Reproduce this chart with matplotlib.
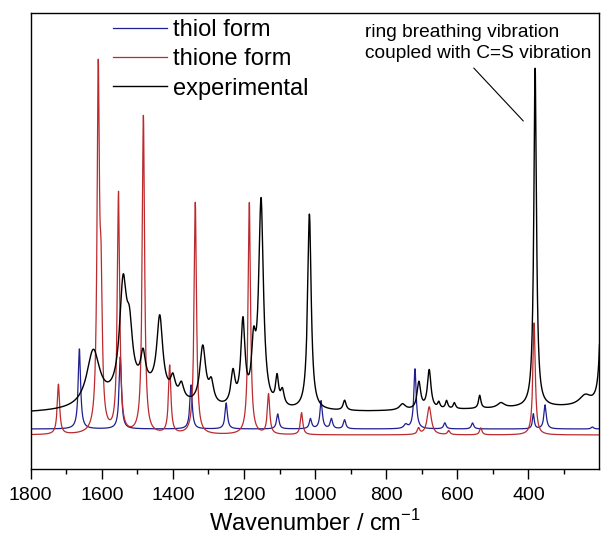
import matplotlib
matplotlib.use("Agg")
import matplotlib.pyplot as plt
import numpy as np

plt.rcParams["font.family"] = ["Liberation Sans", "DejaVu Sans"]

# band tables: position (cm-1), height (a.u.), half width (cm-1)
thiol_pos = [1663, 1548, 1349, 1250, 1105, 1013, 983, 954, 917, 745, 719, 635, 557, 386, 353, 220]
thiol_amp = [80, 72, 44, 26, 15, 10, 28, 10, 9, 4, 60, 6, 6, 15, 24, 2]
thiol_hw = [4, 4, 4, 4, 4, 4, 4, 4, 4, 6, 4, 4, 4, 3, 4, 4]
thiol_base = 40

thione_pos = [1722, 1610, 1602, 1553, 1483, 1409, 1337, 1185, 1131, 1038, 709, 679, 624, 534, 384]
thione_amp = [50, 350, 120, 240, 318, 68, 232, 232, 40, 22, 6, 28, 4, 7, 112]
thione_hw = [4, 4, 4, 4, 4, 4, 4, 4, 4, 4, 4, 7, 4, 4, 4]
thione_base = 34

exp_pos = [1480, 1624, 1540, 1522, 1484, 1437, 1400, 1376, 1316, 1292, 1231, 1203, 1173, 1152,
           1107, 1092, 1016, 917, 754, 708, 679, 652, 630, 608, 537, 477, 381, 240, 192]
exp_amp = [22, 55, 107, 50, 30, 75, 18, 15, 58, 20, 32, 83, 52, 205,
           27, 15, 196, 10, 6, 27, 39, 6, 8, 6, 13, 5, 339, 10, 214]
exp_hw = [90, 22, 12, 10, 8, 10, 8, 8, 10, 8, 7, 7, 7, 8,
          5, 6, 6, 5, 10, 6, 6, 4, 4, 4, 4, 12, 4.5, 20, 5]
# experimental baseline anchors (cm-1, a.u.)
exp_base_wn = [260, 850, 1800]
exp_base_val = [62, 57, 55]

wavenumber = np.linspace(200, 1800, 8000)


def spectrum(pos, amp, hw, base):
    y = np.zeros_like(wavenumber) + base
    for p, a, w in zip(pos, amp, hw):
        y += a * w**2 / ((wavenumber - p) ** 2 + w**2)
    return y


fig = plt.figure(figsize=(6.01, 5.4), dpi=100)
ax = fig.add_axes([0.0511, 0.1315, 0.9464, 0.8444])

ax.plot(wavenumber, spectrum(thiol_pos, thiol_amp, thiol_hw, thiol_base),
        color="#1f1f8f", lw=0.9, label="thiol form")
ax.plot(wavenumber, spectrum(thione_pos, thione_amp, thione_hw, thione_base),
        color="#bb2a2e", lw=0.9, label="thione form")
exp_base = np.interp(wavenumber, exp_base_wn, exp_base_val)
ax.plot(wavenumber, spectrum(exp_pos, exp_amp, exp_hw, exp_base),
        color="black", lw=1.0, label="experimental")

ax.set_xlim(1800, 200)
ax.set_ylim(0, 456)
ax.set_xticks([1800, 1600, 1400, 1200, 1000, 800, 600, 400])
ax.set_xticks([1700, 1500, 1300, 1100, 900, 700, 500, 300], minor=True)
ax.set_yticks([])
ax.tick_params(axis="x", which="major", direction="out", length=7, width=1.0,
               labelsize=14, pad=6)
ax.tick_params(axis="x", which="minor", direction="out", length=3.5, width=1.0)
for spine in ax.spines.values():
    spine.set_linewidth(1.0)
ax.set_xlabel("Wavenumber / cm$^{\\mathregular{-1}}$", fontsize=17, labelpad=4)

ax.legend(loc="upper left", bbox_to_anchor=(0.1447, 0.987), frameon=False,
          fontsize=17, handlelength=2.3, handletextpad=0.25,
          labelspacing=0.31, borderpad=0, borderaxespad=0)

ax.annotate("", xy=(409, 346), xytext=(559, 403),
            arrowprops=dict(arrowstyle="-", color="black", lw=0.8))
ax.text(859, 426, "ring breathing vibration\ncoupled with C=S vibration",
        fontsize=13.8, ha="left", va="center", linespacing=1.36)

fig.savefig("out.png", dpi=100)
